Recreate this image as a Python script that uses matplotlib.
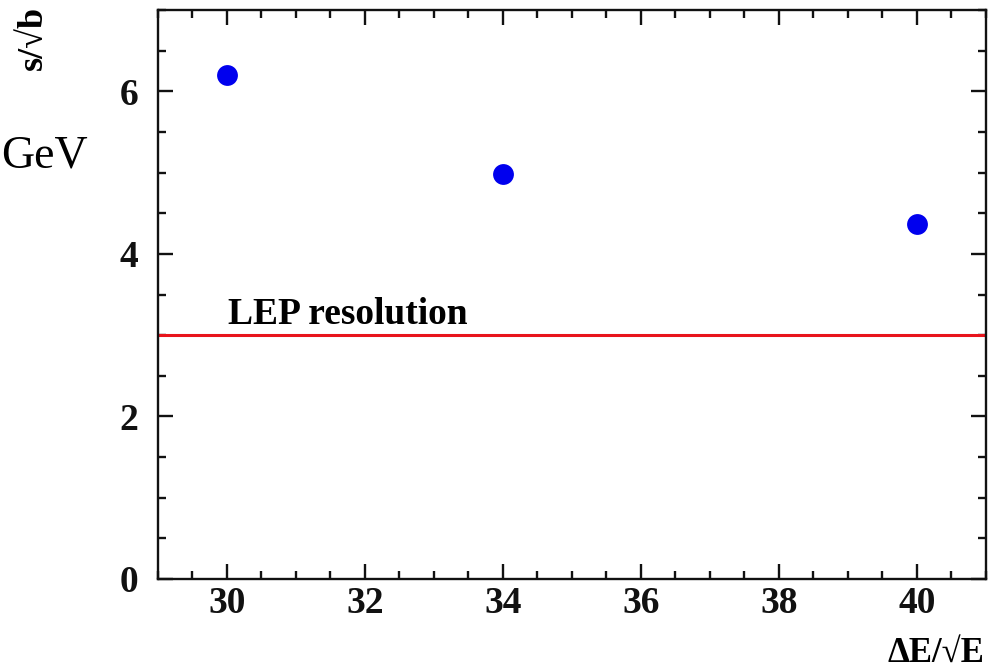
import matplotlib
matplotlib.use("Agg")
import matplotlib.pyplot as plt
from matplotlib.ticker import MultipleLocator

# Data
resolution = [30, 34, 40]          # ΔE/√E
signif = [6.20, 4.98, 4.37]        # s/√b
lep_level = 3.0
lep_label = "LEP resolution"
xticks = [30, 32, 34, 36, 38, 40]
yticks = [0, 2, 4, 6]

W, H = 988, 671
fig = plt.figure(figsize=(W/100, H/100), dpi=100)
L, R, T, B = 158, 986, 10, 579
ax = fig.add_axes([L/W, 1 - B/H, (R-L)/W, (B-T)/H])

fam = ['Liberation Serif', 'DejaVu Serif']

ax.plot(resolution, signif, 'o', color='#0000ee', markersize=15, markeredgewidth=0, zorder=3)
ax.axhline(lep_level, color='#e8141c', lw=2.2)
ax.text(30.02, lep_level + 0.14, lep_label, fontsize=27, fontweight='bold', family=fam,
        ha='left', va='baseline')

ax.set_xlim(29, 41)
ax.set_ylim(0, 7)
ax.set_xticks(xticks)
ax.set_yticks(yticks)
ax.xaxis.set_minor_locator(MultipleLocator(0.5))
ax.yaxis.set_minor_locator(MultipleLocator(0.5))
ax.tick_params(which='both', direction='in', top=True, right=True, width=1.7, colors='#111111')
ax.tick_params(which='major', length=10.5)
ax.tick_params(which='minor', length=5.5)
ax.tick_params(axis='x', which='major', pad=5)
ax.tick_params(axis='y', which='major', pad=14)
for lab in ax.get_xticklabels() + ax.get_yticklabels():
    lab.set_fontfamily(fam)
    lab.set_fontweight('bold')
    lab.set_fontsize(27)
for s in ax.spines.values():
    s.set_linewidth(1.7)
    s.set_color('#111111')

fig.text(984/W, 1 - 662/H, "ΔE/√E", fontsize=25, fontweight='bold', family=fam,
         ha='right', va='baseline')
fig.text(50/W, 1 - 6/H, "s/√b", fontsize=26, fontweight='bold', family=fam,
         rotation=90, ha='right', va='top')
fig.text(1/W, 1 - 167/H, "GeV", fontsize=33, family=fam, ha='left', va='baseline')

fig.savefig("out.png", dpi=100)
